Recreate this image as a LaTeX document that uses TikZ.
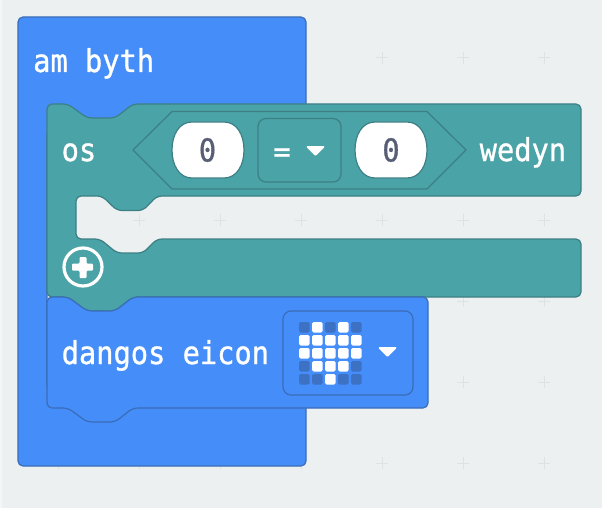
\documentclass[tikz,border=0pt]{standalone}
\usepackage{fontspec}
\newfontfamily\blockfont[FakeBold=1]{DejaVu Sans Mono}
\newcommand{\tall}[1]{\scalebox{1}[1.1]{#1}}
\definecolor{bg}{HTML}{ECF0F1}
\definecolor{edgeL}{HTML}{F5F7F7}
\definecolor{gridc}{HTML}{DDE2E4}
\definecolor{bluef}{HTML}{458DF8}
\definecolor{blues}{HTML}{3A6DB8}
\definecolor{ledoff}{HTML}{3C71C4}
\definecolor{greenf}{HTML}{4AA3A6}
\definecolor{greens}{HTML}{3C8086}
\definecolor{numc}{HTML}{575E75}
\tikzset{
  blueblock/.style={fill=bluef,draw=blues,line width=1.2pt,rounded corners=5pt},
  greenblock/.style={fill=greenf,draw=greens,line width=1.2pt,rounded corners=5pt},
  label/.style={text=white,font=\blockfont\fontsize{28.7}{30}\selectfont,inner sep=0pt,anchor=base west},
  numtext/.style={text=numc,font=\blockfont\fontsize{28.7}{30}\selectfont,inner sep=0pt},
  pill/.style={fill=white,draw=greens,line width=1.2pt},
  gridplus/.style={draw=gridc,line width=1pt},
  ledon/.style={fill=white,rounded corners=1.5pt},
  ledout/.style={fill=ledoff,rounded corners=1.5pt},
  caret/.style={fill=white,draw=white,line width=1pt,line join=round,rounded corners=1pt}
}
\newcommand{\pillat}[2]{%
  \draw[pill] (#1-16,#2-28) -- (#1+16,#2-28)
    .. controls (#1+29,#2-28) and (#1+36,#2-15) .. (#1+36,#2)
    .. controls (#1+36,#2+15) and (#1+29,#2+28) .. (#1+16,#2+28)
    -- (#1-16,#2+28)
    .. controls (#1-29,#2+28) and (#1-36,#2+15) .. (#1-36,#2)
    .. controls (#1-36,#2-15) and (#1-29,#2-28) .. (#1-16,#2-28) -- cycle;}
\begin{document}
\begin{tikzpicture}[x=1pt,y=-1pt]
\useasboundingbox (0,0) rectangle (602,508);
\fill[bg] (0,0) rectangle (602,508);
\fill[edgeL] (0,0) rectangle (1.5,508);
% workspace grid
\foreach \gx in {58,139,220,301,382,463,544}
  \foreach \gy in {58,139,220,301,382,463}
    \draw[gridplus] (\gx-6,\gy) -- (\gx+6,\gy) (\gx,\gy-6) -- (\gx,\gy+6);
% outer hat block: a C whose inner edges lie under the blocks it holds
\draw[blueblock] (18,17) -- (306,17) -- (306,130) -- (47,130) -- (47,390) -- (306,390) -- (306,466) -- (18,466) -- cycle;
% if block
\draw[greenblock] (47,104) -- (68,104) -- (87,118) -- (115,118) -- (133,104) -- (581,104)
  -- (581,196) -- (157,196) -- (143,210.5) -- (117,210.5) -- (102,196) -- (76,196)
  -- (76,239) -- (100,239) -- (117,253) -- (143,253) -- (157,239) -- (581,239)
  -- (581,297) -- (133,297) -- (115,311) -- (87,311) -- (68,297) -- (47,297) -- cycle;
% condition
\draw[fill=greenf,draw=greens,line width=1.2pt,line join=round] (133,150) -- (172,111.5) -- (427,111.5) -- (466,150) -- (427,189) -- (172,189) -- cycle;
\pillat{208}{150}
\pillat{391}{150}
\draw[fill=greenf,draw=greens,line width=1.2pt,rounded corners=8pt] (258,118.5) rectangle (341,182);
\node[numtext] (zeroa) at (207.5,150) {\tall{0}};
\node[numtext] (zerob) at (391,150) {\tall{0}};
\node[numtext,text=white] (eq) at (282,155) {=};
\draw[caret] (306.5,146.5) -- (324.5,146.5) -- (315.5,155.5) -- cycle;
% labels
\node[label] (hat) at (33,72) {\tall{am byth}};
\node[label] (os) at (61.5,161) {\tall{os}};
\node[label] (wedyn) at (479.5,161) {\tall{wedyn}};
% plus button
\draw[white,line width=3.2pt] (83,267) circle (19);
\fill[white,rounded corners=1pt] (79.5,257) -- (86.5,257) -- (86.5,263.5) -- (93,263.5) -- (93,270.5) -- (86.5,270.5) -- (86.5,278) -- (79.5,278) -- (79.5,270.5) -- (72,270.5) -- (72,263.5) -- (79.5,263.5) -- cycle;
% show icon block: its notch lets the green block show through at the top
\draw[blueblock] (47,297) -- (68,297) -- (87,311) -- (115,311) -- (133,297) -- (428,297)
  -- (428,408) -- (133,408) -- (115,422) -- (87,422) -- (68,408) -- (47,408) -- cycle;
\node[label] (show) at (61.5,364) {\tall{dangos eicon}};
\draw[fill=bluef,draw=blues,line width=1.2pt,rounded corners=8pt] (283,311) rectangle (413,395);
\foreach \r/\pat in {0/{0,1,0,1,0},1/{1,1,1,1,1},2/{1,1,1,1,1},3/{0,1,1,1,0},4/{0,0,1,0,0}} {
  \foreach \v [count=\c from 0] in \pat {
    \ifnum\v=1 \def\ledst{ledon}\else\def\ledst{ledout}\fi
    \fill[\ledst] (299+13*\c,322+13*\r) rectangle ++(10.5,10.5);
  }
}
\draw[caret] (378.5,347.5) -- (396.5,347.5) -- (387.5,356.5) -- cycle;
\end{tikzpicture}
\end{document}
